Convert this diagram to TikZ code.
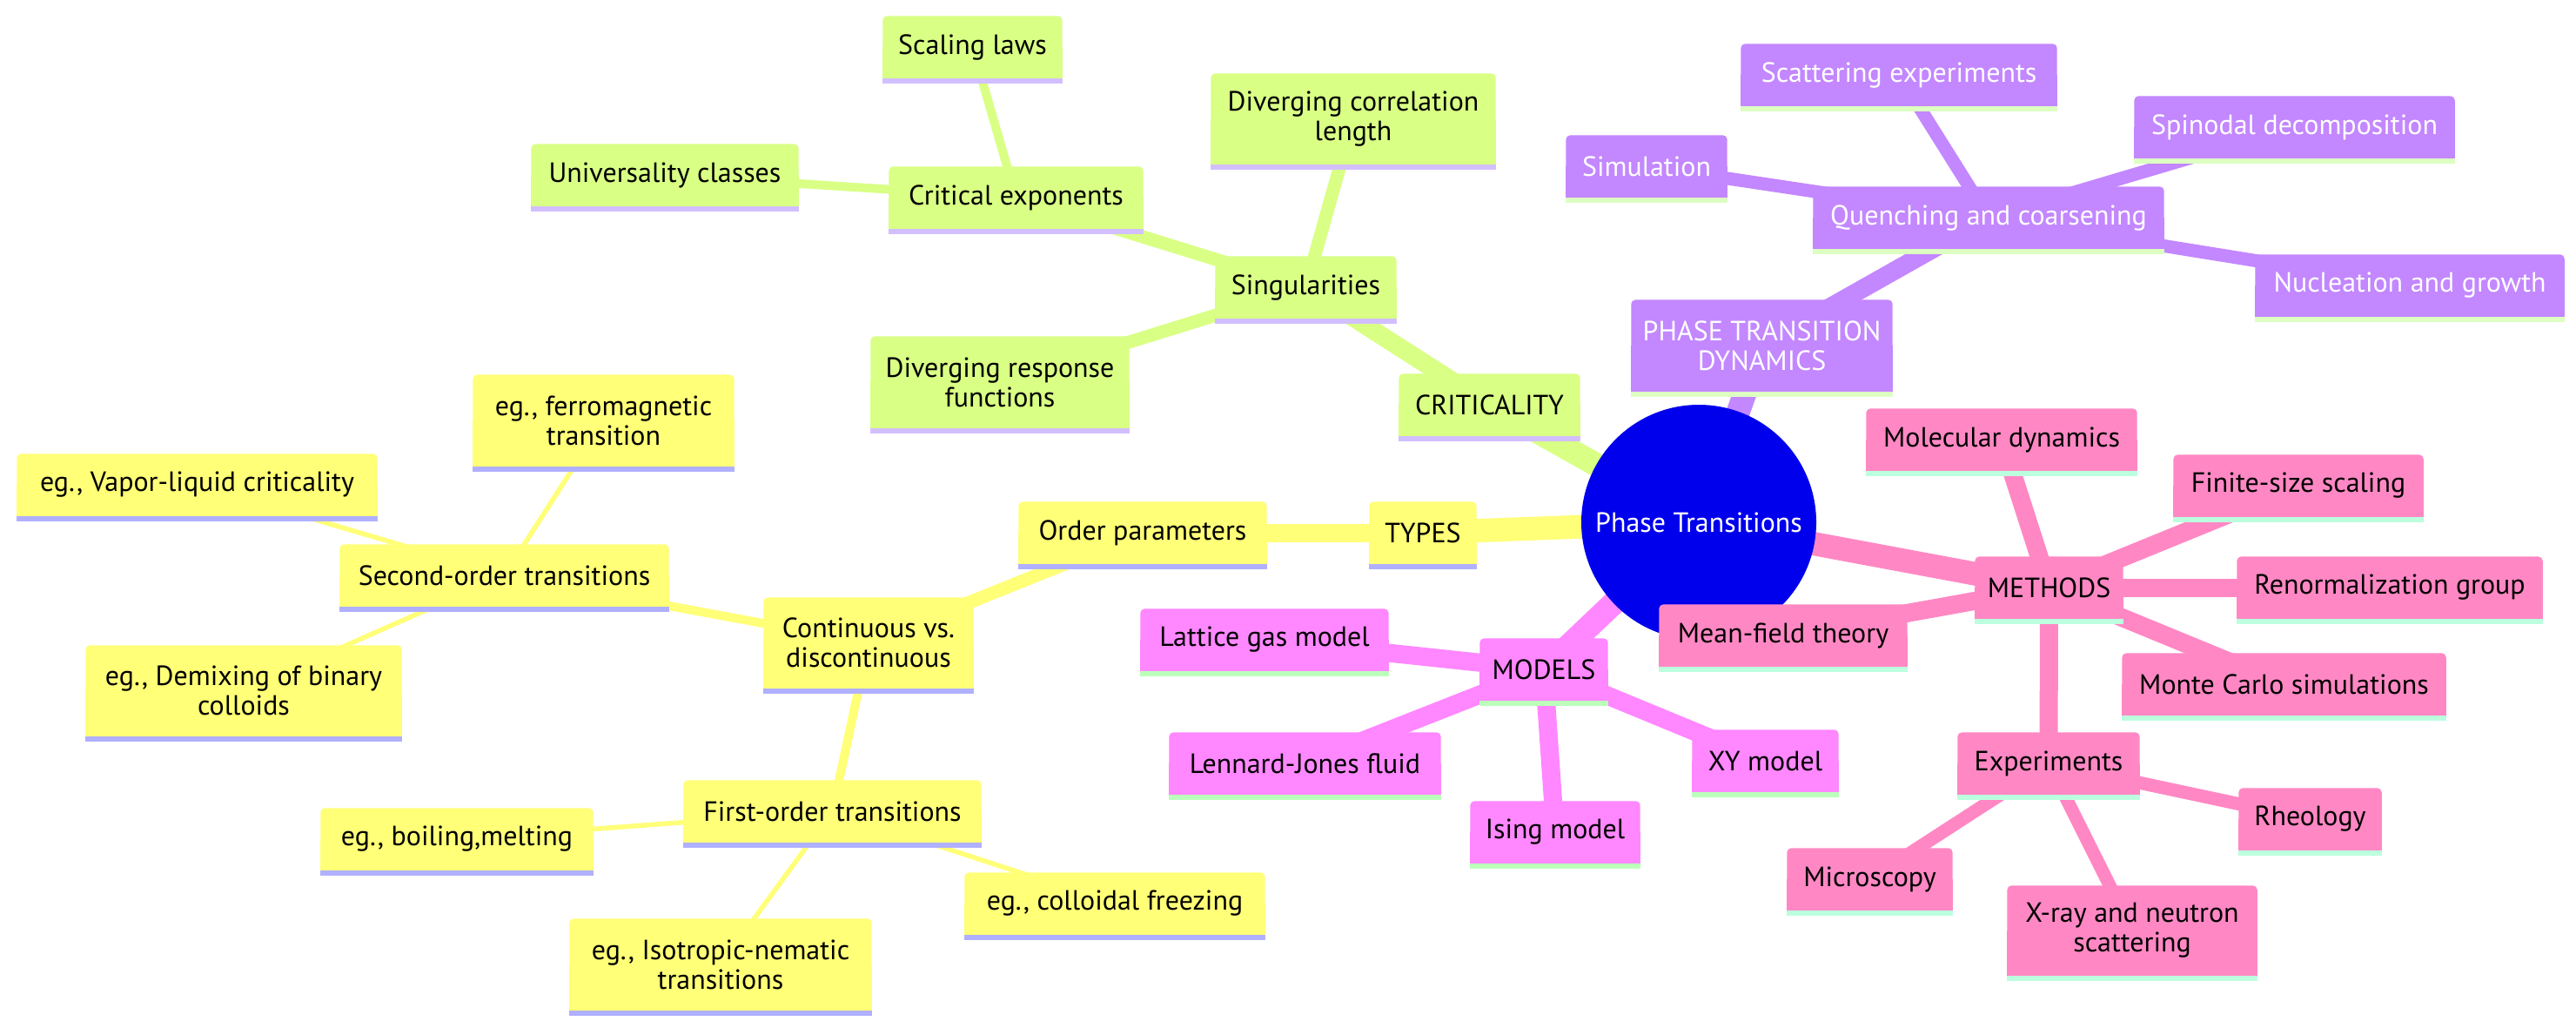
\documentclass[tikz,border=0pt]{standalone}
\usepackage{fontspec}
\setmainfont{PT Sans}
\pgfdeclarelayer{bg}
\pgfdeclarelayer{mid}
\pgfsetlayers{bg,mid,main}
\definecolor{cY}{HTML}{FFFF78}
\definecolor{sY}{HTML}{B0B0FF}
\definecolor{cG}{HTML}{D9FF85}
\definecolor{sG}{HTML}{D2BFFF}
\definecolor{cP}{HTML}{C387FF}
\definecolor{sP}{HTML}{DDFFC2}
\definecolor{cM}{HTML}{FF87FF}
\definecolor{sM}{HTML}{BBFFBB}
\definecolor{cK}{HTML}{FF88C4}
\definecolor{sK}{HTML}{BBFFDF}
\definecolor{cR}{HTML}{0000EC}
\newcommand{\mmfill}[3]{%
  \fill[#2, rounded corners=0.05cm] (#1.south west) rectangle (#1.north east);
  \fill[#2] (#1.south west) rectangle (#1.east);
  \fill[#3] (#1.south west) rectangle ([yshift=-0.06cm]#1.south east);}
\tikzset{
  mm/.style={inner sep=0pt, align=center, font=\fontsize{9.1}{9.6}\selectfont, text=black},
  mmw/.style={mm, text=white},
  bx/.style 2 args={minimum width=#1cm, minimum height=#2cm},
  rootnode/.style={circle, fill=cR, minimum size=2.70cm, inner sep=0pt, text=white, font=\fontsize{9.1}{9.6}\selectfont},
  l0/.style={line width=0.27cm},
  l1/.style={line width=0.21cm},
  l2/.style={line width=0.15cm},
  l3/.style={line width=0.10cm},
  l4/.style={line width=0.055cm},
}
\begin{document}
\begin{tikzpicture}
\useasboundingbox (0,0) rectangle (29.6,-11.8);
\begin{pgfonlayer}{mid}
\node[rootnode] (root) at (19.52,-6.00) {Phase Transitions};
\end{pgfonlayer}
% TYPES branch
\node[mm, bx={1.22}{0.70}] (types) at (16.35,-6.12) {TYPES};
\node[mm, bx={2.84}{0.70}] (order) at (13.13,-6.12) {Order parameters};
\node[mm, bx={2.40}{1.03}] (cont) at (9.98,-7.385) {Continuous vs.\\discontinuous};
\node[mm, bx={3.77}{0.70}] (second) at (5.795,-6.61) {Second-order transitions};
\node[mm, bx={3.41}{0.70}] (first) at (9.565,-9.32) {First-order transitions};
\node[mm, bx={4.13}{0.70}] (vapor) at (2.265,-5.57) {eg., Vapor-liquid criticality};
\node[mm, bx={2.99}{1.04}] (ferro) at (6.935,-4.83) {eg., ferromagnetic\\transition};
\node[mm, bx={3.62}{1.03}] (demix) at (2.80,-7.935) {eg., Demixing of binary\\colloids};
\node[mm, bx={3.12}{0.70}] (boil) at (5.25,-9.64) {eg., boiling,melting};
\node[mm, bx={3.46}{1.04}] (iso) at (8.28,-11.08) {eg., Isotropic-nematic\\transitions};
\node[mm, bx={3.44}{0.70}] (freeze) at (12.81,-10.38) {eg., colloidal freezing};
% CRITICALITY branch
\node[mm, bx={2.07}{0.70}] (crit) at (17.115,-4.65) {CRITICALITY};
\node[mm, bx={2.07}{0.70}] (sing) at (15.005,-3.30) {Singularities};
\node[mm, bx={2.91}{0.70}] (critexp) at (11.675,-2.27) {Critical exponents};
\node[mm, bx={3.26}{1.03}] (corr) at (15.55,-1.365) {Diverging correlation\\length};
\node[mm, bx={2.96}{1.04}] (resp) at (11.49,-4.39) {Diverging response\\functions};
\node[mm, bx={2.05}{0.70}] (scal) at (11.175,-0.54) {Scaling laws};
\node[mm, bx={3.06}{0.70}] (univ) at (7.64,-2.01) {Universality classes};
% DYNAMICS branch
\node[mmw, bx={2.99}{1.04}] (dyn) at (20.245,-3.97) {PHASE TRANSITION\\DYNAMICS};
\node[mmw, bx={4.02}{0.70}] (quench) at (22.85,-2.50) {Quenching and coarsening};
\node[mmw, bx={3.62}{0.70}] (scatt) at (21.82,-0.86) {Scattering experiments};
\node[mmw, bx={3.67}{0.70}] (spin) at (26.365,-1.46) {Spinodal decomposition};
\node[mmw, bx={1.84}{0.70}] (simu) at (18.92,-1.91) {Simulation};
\node[mmw, bx={3.54}{0.70}] (nucl) at (27.69,-3.28) {Nucleation and growth};
% MODELS branch
\node[mm, bx={1.46}{0.70}] (models) at (17.74,-7.69) {MODELS};
\node[mm, bx={2.84}{0.70}] (lattice) at (14.53,-7.35) {Lattice gas model};
\node[mm, bx={3.11}{0.70}] (lj) at (14.995,-8.77) {Lennard-Jones fluid};
\node[mm, bx={1.94}{0.70}] (ising) at (17.87,-9.56) {Ising model};
\node[mm, bx={1.67}{0.70}] (xy) at (20.285,-8.74) {XY model};
% METHODS branch
\node[mm, bx={1.69}{0.70}] (methods) at (23.545,-6.75) {METHODS};
\node[mm, bx={3.10}{0.70}] (md) at (23.00,-5.05) {Molecular dynamics};
\node[mm, bx={2.86}{0.70}] (fss) at (26.41,-5.58) {Finite-size scaling};
\node[mm, bx={3.50}{0.70}] (rg) at (27.46,-6.75) {Renormalization group};
\node[mm, bx={3.71}{0.70}] (mc) at (26.245,-7.86) {Monte Carlo simulations};
\node[mm, bx={2.84}{0.70}] (mft) at (20.49,-7.30) {Mean-field theory};
\node[mm, bx={2.08}{0.70}] (exper) at (23.54,-8.77) {Experiments};
\node[mm, bx={1.63}{0.70}] (rheo) at (26.545,-9.41) {Rheology};
\node[mm, bx={1.89}{0.70}] (micro) at (21.485,-10.10) {Microscopy};
\node[mm, bx={2.86}{1.02}] (xray) at (24.50,-10.69) {X-ray and neutron\\scattering};
% box fills
\begin{pgfonlayer}{mid}
\foreach \n in {types,order,cont,second,first,vapor,ferro,demix,boil,iso,freeze} {\mmfill{\n}{cY}{sY}}
\foreach \n in {crit,sing,critexp,corr,resp,scal,univ} {\mmfill{\n}{cG}{sG}}
\foreach \n in {dyn,quench,scatt,spin,simu,nucl} {\mmfill{\n}{cP}{sP}}
\foreach \n in {models,lattice,lj,ising,xy} {\mmfill{\n}{cM}{sM}}
\foreach \n in {methods,md,fss,rg,mc,mft,exper,rheo,micro,xray} {\mmfill{\n}{cK}{sK}}
\end{pgfonlayer}
% connectors
\begin{pgfonlayer}{bg}
\draw[cY, l0] (root.center) -- (types.center);
\draw[cY, l1] (types.center) -- (order.center);
\draw[cY, l2] (order.center) -- (cont.center);
\draw[cY, l3] (cont.center) -- (second.center);
\draw[cY, l3] (cont.center) -- (first.center);
\foreach \n in {vapor,ferro,demix} {\draw[cY, l4] (second.center) -- (\n.center);}
\foreach \n in {boil,iso,freeze} {\draw[cY, l4] (first.center) -- (\n.center);}
\draw[cG, l0] (root.center) -- (crit.center);
\draw[cG, l1] (crit.center) -- (sing.center);
\foreach \n in {critexp,corr,resp} {\draw[cG, l2] (sing.center) -- (\n.center);}
\foreach \n in {scal,univ} {\draw[cG, l3] (critexp.center) -- (\n.center);}
\draw[cP, l0] (root.center) -- (dyn.center);
\draw[cP, l1] (dyn.center) -- (quench.center);
\foreach \n in {scatt,spin,simu,nucl} {\draw[cP, l2] (quench.center) -- (\n.center);}
\draw[cM, l0] (root.center) -- (models.center);
\foreach \n in {lattice,lj,ising,xy} {\draw[cM, l1] (models.center) -- (\n.center);}
\draw[cK, l0] (root.center) -- (methods.center);
\foreach \n in {md,fss,rg,mc,mft,exper} {\draw[cK, l1] (methods.center) -- (\n.center);}
\foreach \n in {rheo,micro,xray} {\draw[cK, l2] (exper.center) -- (\n.center);}
\end{pgfonlayer}
\end{tikzpicture}
\end{document}
